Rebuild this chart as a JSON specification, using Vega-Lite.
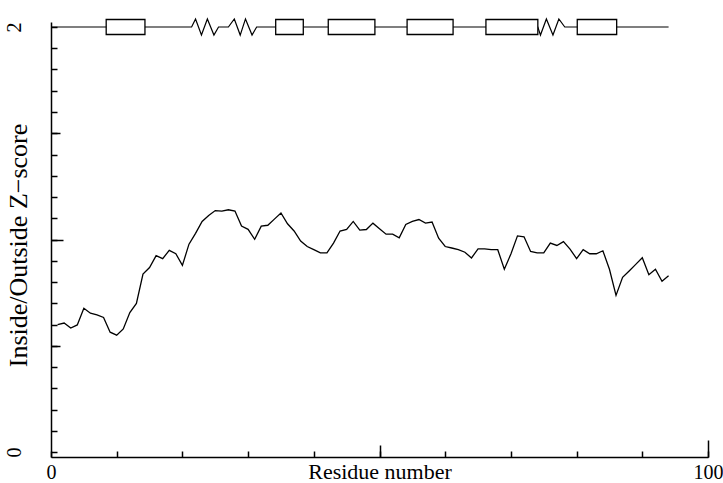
{
  "$schema": "https://vega.github.io/schema/vega-lite/v6.json",
  "width": 657,
  "height": 435,
  "autosize": {"type": "none"},
  "padding": {"left": 51, "top": 22, "right": 15, "bottom": 26},
  "background": "white",
  "config": {
    "view": {"stroke": null},
    "font": "Liberation Serif",
    "axis": {
      "grid": false,
      "domainColor": "black",
      "domainWidth": 1.5,
      "tickColor": "black",
      "tickWidth": 1.5,
      "labelColor": "black",
      "titleColor": "black",
      "labelFont": "Liberation Serif",
      "titleFont": "Liberation Serif",
      "labelFontSize": 20,
      "titleFontSize": 22,
      "titleFontWeight": "normal",
      "labelFlush": false,
      "labelOverlap": false,
      "tickCount": 40
    }
  },
  "resolve": {"axis": {"x": "independent", "y": "independent"}},
  "datasets": {
    "zscore": [
      {"residue": 1, "z": 0.599}, {"residue": 2, "z": 0.607}, {"residue": 3, "z": 0.583}, {"residue": 4, "z": 0.598},
      {"residue": 5, "z": 0.676}, {"residue": 6, "z": 0.653}, {"residue": 7, "z": 0.645}, {"residue": 8, "z": 0.633},
      {"residue": 9, "z": 0.564}, {"residue": 10, "z": 0.550}, {"residue": 11, "z": 0.579}, {"residue": 12, "z": 0.656},
      {"residue": 13, "z": 0.699}, {"residue": 14, "z": 0.837}, {"residue": 15, "z": 0.868}, {"residue": 16, "z": 0.924},
      {"residue": 17, "z": 0.910}, {"residue": 18, "z": 0.949}, {"residue": 19, "z": 0.933}, {"residue": 20, "z": 0.878},
      {"residue": 21, "z": 0.978}, {"residue": 22, "z": 1.029}, {"residue": 23, "z": 1.085}, {"residue": 24, "z": 1.113},
      {"residue": 25, "z": 1.136}, {"residue": 26, "z": 1.134}, {"residue": 27, "z": 1.140}, {"residue": 28, "z": 1.134},
      {"residue": 29, "z": 1.063}, {"residue": 30, "z": 1.048}, {"residue": 31, "z": 1.001}, {"residue": 32, "z": 1.063},
      {"residue": 33, "z": 1.067}, {"residue": 34, "z": 1.096}, {"residue": 35, "z": 1.125}, {"residue": 36, "z": 1.074},
      {"residue": 37, "z": 1.040}, {"residue": 38, "z": 0.993}, {"residue": 39, "z": 0.967}, {"residue": 40, "z": 0.952},
      {"residue": 41, "z": 0.937}, {"residue": 42, "z": 0.937}, {"residue": 43, "z": 0.983}, {"residue": 44, "z": 1.040},
      {"residue": 45, "z": 1.048}, {"residue": 46, "z": 1.085}, {"residue": 47, "z": 1.044}, {"residue": 48, "z": 1.047},
      {"residue": 49, "z": 1.077}, {"residue": 50, "z": 1.051}, {"residue": 51, "z": 1.025}, {"residue": 52, "z": 1.025},
      {"residue": 53, "z": 1.008}, {"residue": 54, "z": 1.071}, {"residue": 55, "z": 1.085}, {"residue": 56, "z": 1.094},
      {"residue": 57, "z": 1.077}, {"residue": 58, "z": 1.082}, {"residue": 59, "z": 1.006}, {"residue": 60, "z": 0.967},
      {"residue": 61, "z": 0.960}, {"residue": 62, "z": 0.952}, {"residue": 63, "z": 0.940}, {"residue": 64, "z": 0.913},
      {"residue": 65, "z": 0.956}, {"residue": 66, "z": 0.956}, {"residue": 67, "z": 0.952}, {"residue": 68, "z": 0.952},
      {"residue": 69, "z": 0.860}, {"residue": 70, "z": 0.932}, {"residue": 71, "z": 1.017}, {"residue": 72, "z": 1.013},
      {"residue": 73, "z": 0.944}, {"residue": 74, "z": 0.937}, {"residue": 75, "z": 0.937}, {"residue": 76, "z": 0.983},
      {"residue": 77, "z": 0.972}, {"residue": 78, "z": 0.990}, {"residue": 79, "z": 0.955}, {"residue": 80, "z": 0.910},
      {"residue": 81, "z": 0.952}, {"residue": 82, "z": 0.933}, {"residue": 83, "z": 0.933}, {"residue": 84, "z": 0.947},
      {"residue": 85, "z": 0.860}, {"residue": 86, "z": 0.737}, {"residue": 87, "z": 0.822}, {"residue": 88, "z": 0.852},
      {"residue": 89, "z": 0.883}, {"residue": 90, "z": 0.914}, {"residue": 91, "z": 0.834}, {"residue": 92, "z": 0.860},
      {"residue": 93, "z": 0.803}, {"residue": 94, "z": 0.829}
    ],
    "backbone": [
      {"i": 1, "residue": 0, "y": 2}, {"i": 2, "residue": 21.4, "y": 2},
      {"i": 3, "residue": 22.0, "y": 2.038}, {"i": 4, "residue": 22.9, "y": 1.962},
      {"i": 5, "residue": 23.8, "y": 2.038}, {"i": 6, "residue": 24.8, "y": 1.962},
      {"i": 7, "residue": 25.5, "y": 2}, {"i": 8, "residue": 27.0, "y": 2},
      {"i": 9, "residue": 27.9, "y": 2.038}, {"i": 10, "residue": 28.8, "y": 1.962},
      {"i": 11, "residue": 29.6, "y": 2.038}, {"i": 12, "residue": 30.6, "y": 1.962},
      {"i": 13, "residue": 31.3, "y": 2}, {"i": 14, "residue": 74.1, "y": 2},
      {"i": 15, "residue": 74.5, "y": 1.962}, {"i": 16, "residue": 75.4, "y": 2.038},
      {"i": 17, "residue": 76.4, "y": 1.962}, {"i": 18, "residue": 77.3, "y": 2.038},
      {"i": 19, "residue": 78.2, "y": 2}, {"i": 20, "residue": 94, "y": 2}
    ],
    "helices": [
      {"start": 8.4, "end": 14.3, "y": 2},
      {"start": 34.2, "end": 38.4, "y": 2},
      {"start": 42.2, "end": 49.3, "y": 2},
      {"start": 54.2, "end": 61.2, "y": 2},
      {"start": 66.2, "end": 74.1, "y": 2},
      {"start": 80.1, "end": 86.1, "y": 2}
    ]
  },
  "layer": [
    {
      "data": {"name": "zscore"},
      "mark": {"type": "line", "color": "black", "strokeWidth": 1.3},
      "encoding": {
        "x": {
          "field": "residue", "type": "quantitative",
          "scale": {"domain": [0, 100], "nice": false, "zero": false},
          "axis": {
            "orient": "bottom",
            "title": "Residue number",
            "values": [0, 10, 20, 30, 40, 50, 60, 70, 80, 90, 100],
            "labelExpr": "datum.value === 0 ? '0' : datum.value === 100 ? '100' : ''",
            "tickSize": -6,
            "labelPadding": 11,
            "labelBaseline": "top",
            "titleX": 328.5,
            "titleY": 4,
            "titleBaseline": "top",
            "titleAlign": "center",
            "titleAnchor": null
          }
        },
        "y": {
          "field": "z", "type": "quantitative",
          "scale": {"domain": [0, 2], "nice": false, "zero": false},
          "axis": {
            "orient": "left",
            "title": "Inside/Outside Z−score",
            "titleFontSize": 26,
            "values": [0, 0.1, 0.2, 0.3, 0.4, 0.5, 0.6, 0.7, 0.8, 0.9, 1, 1.1, 1.2, 1.3, 1.4, 1.5, 1.6, 1.7, 1.8, 1.9, 2],
            "labelExpr": "datum.value === 0 ? '0' : datum.value === 2 ? '2' : ''",
            "tickSize": -6,
            "labelAngle": -90,
            "labelAlign": "center",
            "labelBaseline": "middle",
            "labelPadding": 43,
            "titleX": -33,
            "titleY": 223,
            "titleAngle": -90,
            "titleAlign": "center",
            "titleBaseline": "middle",
            "titleAnchor": null
          }
        }
      }
    },
    {
      "data": {"name": "backbone"},
      "mark": {"type": "line", "color": "black", "strokeWidth": 1.2},
      "encoding": {
        "x": {
          "field": "residue", "type": "quantitative",
          "scale": {"domain": [0, 100], "nice": false, "zero": false},
          "axis": {"orient": "bottom", "values": [50], "tickSize": -12, "labels": false, "domain": false, "title": null}
        },
        "y": {
          "field": "y", "type": "quantitative",
          "scale": {"domain": [0, 2], "nice": false, "zero": false},
          "axis": {"orient": "left", "values": [1], "tickSize": -12, "labels": false, "domain": false, "title": null}
        },
        "order": {"field": "i", "type": "quantitative"}
      }
    },
    {
      "data": {"name": "helices"},
      "mark": {"type": "bar", "size": 15, "fill": "white", "stroke": "black", "strokeWidth": 1.3},
      "encoding": {
        "x": {
          "field": "start", "type": "quantitative",
          "scale": {"domain": [0, 100], "nice": false, "zero": false},
          "axis": {"orient": "bottom", "values": [100], "tickSize": -17, "labels": false, "domain": false, "title": null}
        },
        "x2": {"field": "end"},
        "y": {
          "field": "y", "type": "quantitative",
          "scale": {"domain": [0, 2], "nice": false, "zero": false},
          "axis": {"orient": "left", "values": [0.5, 1.5], "tickSize": -9, "labels": false, "domain": false, "title": null}
        }
      }
    }
  ]
}
